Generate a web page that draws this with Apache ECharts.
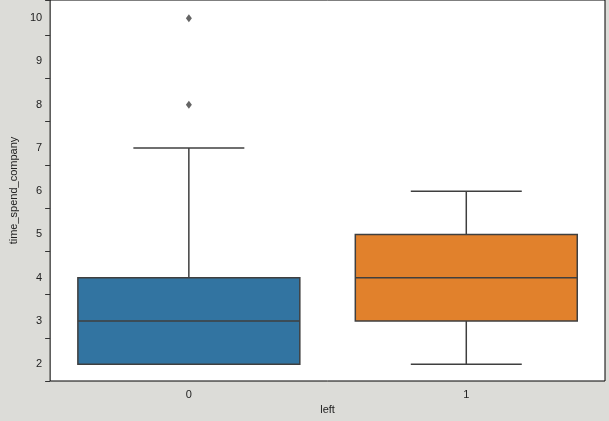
<!DOCTYPE html>
<html>
<head>
<meta charset="utf-8">
<style>
  html, body { margin: 0; padding: 0; background: #dcdcd8; }
  #chart { width: 609px; height: 421px; }
</style>
</head>
<body>
<div id="chart"></div>
<script src="https://cdn.jsdelivr.net/npm/echarts@6/dist/echarts.min.js"></script>
<script>
var categories = ['0', '1'];
// [min whisker, Q1, median, Q3, max whisker]
var boxStats = [[2, 2, 3, 4, 7], [2, 3, 4, 5, 6]];
var outliers = [[0, 8], [0, 10]];
var boxColors = ['#3274a1', '#e1812c'];
var yTicks = [2, 3, 4, 5, 6, 7, 8, 9, 10];

var edge = '#3f3f3f';
var chart = echarts.init(document.getElementById('chart'));

chart.setOption({
  animation: false,
  grid: { left: 47, right: 4, top: 0, bottom: 40, show: true, backgroundColor: '#fff', borderColor: '#000', borderWidth: 1 },
  xAxis: {
    type: 'category', data: categories, name: 'left', nameLocation: 'middle', nameGap: 22,
    nameTextStyle: { color: '#222', fontSize: 11 },
    axisLine: { show: false }, axisTick: { alignWithLabel: true, lineStyle: { color: '#333' } },
    axisLabel: { color: '#222', fontSize: 11 }
  },
  yAxis: {
    type: 'value', min: 1.61, max: 10.42, interval: 1, name: 'time_spend_company', nameLocation: 'middle', nameGap: 30,
    nameTextStyle: { color: '#222', fontSize: 11 },
    splitLine: { show: false }, axisLine: { show: false }, axisTick: { show: true, lineStyle: { color: '#333' } },
    axisLabel: { color: '#222', fontSize: 11, customValues: yTicks, formatter: function (v) { return v; } }
  },
  series: [{
    type: 'custom',
    data: boxStats.map(function (s, i) { return [i].concat(s); }),
    renderItem: function (params, api) {
      var i = api.value(0);
      var bw = api.size([1, 0])[0] * 0.8;
      var cx = api.coord([i, 0])[0];
      var yLo = api.coord([i, api.value(1)])[1];
      var yQ1 = api.coord([i, api.value(2)])[1];
      var yMed = api.coord([i, api.value(3)])[1];
      var yQ3 = api.coord([i, api.value(4)])[1];
      var yHi = api.coord([i, api.value(5)])[1];
      var ls = { stroke: edge, lineWidth: 1.5 };
      return {
        type: 'group',
        children: [
          { type: 'line', shape: { x1: cx, y1: yQ3, x2: cx, y2: yHi }, style: ls },
          { type: 'line', shape: { x1: cx, y1: yQ1, x2: cx, y2: yLo }, style: ls },
          { type: 'line', shape: { x1: cx - bw / 4, y1: yHi, x2: cx + bw / 4, y2: yHi }, style: ls },
          { type: 'line', shape: { x1: cx - bw / 4, y1: yLo, x2: cx + bw / 4, y2: yLo }, style: ls },
          { type: 'rect', shape: { x: cx - bw / 2, y: yQ3, width: bw, height: yQ1 - yQ3 }, style: { fill: boxColors[i], stroke: edge, lineWidth: 1.5 } },
          { type: 'line', shape: { x1: cx - bw / 2, y1: yMed, x2: cx + bw / 2, y2: yMed }, style: ls }
        ]
      };
    }
  }, {
    type: 'scatter', data: outliers, symbol: 'diamond', symbolSize: [6, 8],
    itemStyle: { color: edge }
  }]
});
</script>
</body>
</html>
